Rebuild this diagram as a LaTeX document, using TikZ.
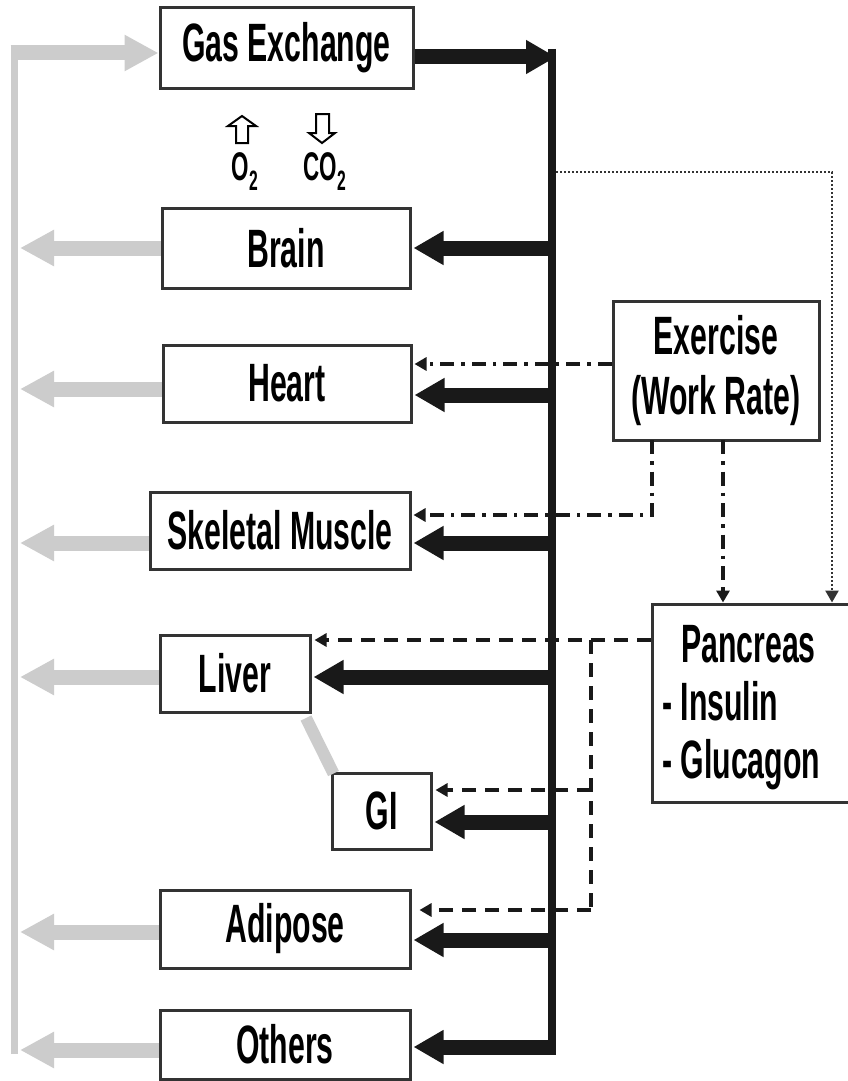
\documentclass[tikz,border=0pt]{standalone}
\usepackage{fontspec}
\setmainfont{Liberation Sans}[FakeStretch=0.56]
\usetikzlibrary{arrows.meta}
\newcommand\lblfont{\fontsize{54}{60}\selectfont\bfseries}
\newcommand\gasfont{\fontsize{40}{44}\selectfont\bfseries}
\begin{document}
\begin{tikzpicture}[x=1pt,y=-1pt,
  box/.style={draw=black!80, line width=3pt, fill=white, inner sep=0pt, font=\lblfont},
  lbl/.style={inner sep=0pt, font=\lblfont, anchor=base west},
  blk/.style={line width=15pt, black!90, -{Triangle[length=30pt,width=32pt]}},
  gry/.style={line width=15pt, black!20, -{Triangle[length=34pt,width=34pt]}},
  dashdot/.style={line width=3.5pt, black!90, dash pattern=on 14pt off 7pt on 3.5pt off 7pt},
  dsh/.style={line width=3.5pt, black!90, dash pattern=on 14pt off 9pt},
  dot/.style={line width=2.5pt, black!80, dash pattern=on 2pt off 2pt},
  tip/.style={-{Triangle[length=12pt,width=13pt]}}
]
\useasboundingbox (0,0) rectangle (848,1081);
\fill[white] (0,0) rectangle (848,1081);

% boxes
\node[box, minimum width=253pt, minimum height=80pt] (gas) at (286.5,48) {Gas Exchange};
\node[box, minimum width=248pt, minimum height=80pt] (brain) at (286,248) {Brain};
\node[box, minimum width=248pt, minimum height=77pt] (heart) at (287,383.5) {Heart};
\node[box, minimum width=260pt, minimum height=77pt] (skel) at (280,530.5) {Skeletal Muscle};
\node[box, minimum width=150pt, minimum height=77pt] (liver) at (235,673.5) {Liver};
\node[box, minimum width=99pt, minimum height=76pt] (gi) at (381.5,811) {GI};
\node[box, minimum width=250pt, minimum height=78pt] (adi) at (285,929) {Adipose};
\node[box, minimum width=250pt, minimum height=69pt] (oth) at (285,1044.5) {Others};
\node[box, minimum width=206pt, minimum height=139pt, align=center] (ex) at (716,370.5) {Exercise\\(Work Rate)};
\node[box, minimum width=200pt, minimum height=198pt] (pan) at (752,703) {};
\node[lbl] (panT) at (681,662) {Pancreas};
\node[lbl] (ins) at (662,720) {- Insulin};
\node[lbl] (glu) at (662,778) {- Glucagon};

% O2 / CO2
\node[font=\gasfont, inner sep=0pt, anchor=base] (o2) at (245,180) {O\textsubscript{2}};
\node[font=\gasfont, inner sep=0pt, anchor=base] (co2) at (325,180) {CO\textsubscript{2}};
\draw[line width=2pt, line join=miter] (242,116) -- (256,126) -- (248,126) -- (248,143) -- (236,143) -- (236,126) -- (228,126) -- cycle;
\draw[line width=2pt, line join=miter] (322,143) -- (335,133) -- (329,133) -- (329,114) -- (316,114) -- (316,133) -- (309,133) -- cycle;

% gray return path
\coordinate (glTop) at (14,53);
\coordinate (glBot) at (14,1050);
\draw[line width=7pt, black!20] (14,1054) -- (14,46);
\draw[gry] (10.5,53) -- (gas.west |- glTop);
\foreach \n/\y in {brain/248, heart/389, skel/543, liver/677, adi/932, oth/1050}{
  \coordinate (g\n) at (20,\y);
  \draw[gry] (\n.west |- g\n) -- (g\n);
}
\coordinate (gl) at (306,718);
\draw[line width=12pt, black!20] ([xshift=3pt,yshift=-2pt]gi.north west) -- (gl);

% bus
\coordinate (busTop) at (552,49);
\coordinate (busBot) at (552,1055);
\draw[line width=8pt, black!90] (busTop) -- (busBot);
\coordinate (bgas) at (556,57);
\draw[blk] (gas.east |- bgas) -- (bgas);
\foreach \n/\y in {brain/248, heart/395, skel/543, liver/677, gi/822, adi/940, oth/1047}{
  \coordinate (b\n) at (552,\y);
  \draw[blk] (b\n) -- ([xshift=2pt]\n.east |- b\n);
}

% dotted: bus -> pancreas
\coordinate (dotA) at (556,172);
\coordinate (dotB) at (832,172);
\draw[dot, tip] (dotA) -- (dotB) -- (dotB |- pan.north);

% exercise dash-dot
\coordinate (exH) at (0,364);
\draw[dashdot, tip] (ex.west |- exH) -- ([xshift=2pt]heart.east |- exH);
\coordinate (exS1) at (652,440);
\coordinate (exS2) at (652,515);
\draw[dashdot, tip] (exS1) -- (exS2) -- ([xshift=2pt]skel.east |- exS2);
\coordinate (exP) at (723,440);
\draw[dashdot, tip] (exP) -- (exP |- pan.north);

% pancreas dashed
\coordinate (pL) at (0,640);
\coordinate (pv1) at (591,640);
\coordinate (pv2) at (591,910);
\coordinate (pgi) at (591,790);
\draw[dsh, tip] (pan.west |- pL) -- ([xshift=3pt]liver.east |- pL);
\draw[dsh] (pv1) -- (pv2);
\draw[dsh, tip] (pgi) -- ([xshift=3pt]gi.east |- pgi);
\draw[dsh, tip] (pv2) -- ([xshift=8pt]adi.east |- pv2);
\end{tikzpicture}
\end{document}
